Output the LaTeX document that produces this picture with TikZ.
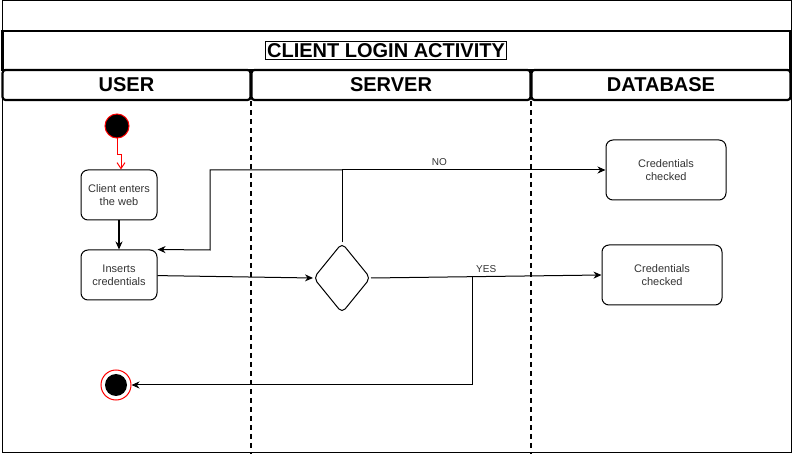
\documentclass[tikz,border=0pt]{standalone}
\usepackage{fontspec}
\setmainfont{Liberation Sans}
\usepackage{tikz}
\usetikzlibrary{arrows.meta, shapes.geometric, positioning, calc}

\tikzset{
  lanehead/.style={draw, line width=2.2pt, rounded corners=3pt, minimum height=30pt,
    inner sep=0pt, font=\fontsize{20}{24}\selectfont\bfseries},
  actbox/.style={draw, rounded corners=7pt, align=center, inner sep=0pt,
    text=black!80, font=\fontsize{11}{13}\selectfont},
  lane/.style={line width=2pt, dash pattern=on 5pt off 4pt},
  flow/.style={-{Stealth[length=8pt,width=7pt,inset=2.5pt]}},
}

\begin{document}
\begin{tikzpicture}[x=1pt, y=-1pt, line width=1pt]
  \useasboundingbox (0,0) rectangle (793,454);
  \draw (2,0.5) rectangle (791,452);

  % title and lane heads
  \node[draw, line width=2.2pt, minimum width=788pt, minimum height=39pt] (band) at (396.5,50.5) {};
  \node[draw, inner sep=2pt, font=\fontsize{20}{24}\selectfont\bfseries] (title) at (386,50.5) {CLIENT LOGIN ACTIVITY};
  \node[lanehead, minimum width=248pt] (user)   at (126.5,85)  {USER};
  \node[lanehead, minimum width=279pt] (server) at (391,85)  {SERVER};
  \node[lanehead, minimum width=259pt] (db)     at (661,85)  {DATABASE};

  \draw[lane] (251,101) -- (251,454);
  \draw[lane] (531,101) -- (531,454);

  % activities
  \node[circle, fill=black, draw=red, minimum size=24pt, inner sep=0pt] (start) at (117,126) {};
  \node[actbox, minimum width=76pt, minimum height=50pt] (client) at (119,195) {Client enters\\the web};
  \node[actbox, minimum width=76pt, minimum height=50pt] (inserts) at (119,275) {Inserts\\credentials};
  \node[diamond, draw, rounded corners=5pt, minimum width=57pt, minimum height=70pt] (check) at (342,278) {};
  \node[actbox, minimum width=120pt, minimum height=60pt] (credno) at (666,170) {Credentials\\checked};
  \node[actbox, minimum width=120pt, minimum height=60pt] (credyes) at (662,275) {Credentials\\checked};
  \node[circle, draw=red, minimum size=30pt, inner sep=0pt] (stop) at (116,385) {};
  \node[circle, fill=black, minimum size=22pt, inner sep=0pt] at (stop) {};

  \coordinate (nojoin) at (342,170);
  \coordinate (yesjoin) at (472,276);

  % connectors
  \draw[red, -{Straight Barb[length=6pt,width=8pt]}] (start.south) -- ++(0,16) -| ([xshift=2pt]client.north);
  \draw[flow, line width=1.5pt] (client) -- (inserts);
  \draw[flow] (inserts) -- (check.west);
  \draw (check.north) -- (nojoin);
  \draw[flow] (nojoin) -- (credno.west) node[pos=0.37, above=1pt, font=\fontsize{10}{12}\selectfont, text=black!80] {NO};
  \draw[flow] (nojoin) -| (210,250) -- (inserts.north east);
  \draw[flow] (check.east) -- (credyes.west) node[pos=0.5, above=0pt, font=\fontsize{10}{12}\selectfont, text=black!80] {YES};
  \draw[flow] (yesjoin) -- (472,385) -- (stop.east);
\end{tikzpicture}
\end{document}
